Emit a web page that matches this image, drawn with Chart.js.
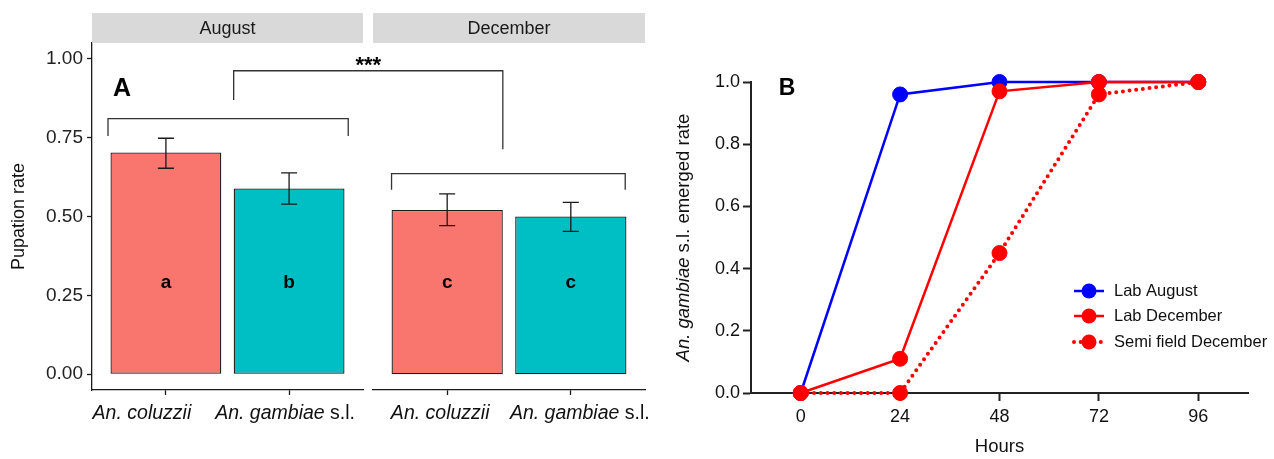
<!DOCTYPE html>
<html lang="en">
<head>
<meta charset="UTF-8">
<title>Pupation and emergence</title>
<script src="https://cdn.jsdelivr.net/npm/chart.js"></script>
<style>
    body { margin: 0; background: #fff; }
    #wrap { position: relative; width: 1274px; height: 459px; }
    canvas { position: absolute; top: 0; }
    #augChart, #decChart { left: 0; }
    #emergeChart { left: 660px; }
</style>
</head>
<body>
<div id="wrap">
    <canvas id="augChart" width="660" height="459"></canvas>
    <canvas id="decChart" width="660" height="459"></canvas>
    <canvas id="emergeChart" width="614" height="459"></canvas>
</div>
<script>
// --- panel A: pupation rate ---
const species = ['An. coluzzii', 'An. gambiae s.l.'];
const months = ['August', 'December'];
const augustRate = [0.703, 0.589];
const augustLow = [0.653, 0.539];
const augustHigh = [0.748, 0.638];
const decemberRate = [0.521, 0.500];
const decemberLow = [0.471, 0.453];
const decemberHigh = [0.572, 0.545];
const augustLetters = ['a', 'b'];
const decemberLetters = ['c', 'c'];
const pupationTicks = [0, 0.25, 0.5, 0.75, 1];

// --- panel B: emergence ---
const hours = [0, 24, 48, 72, 96];
const labAugust = [0, 0.96, 1.0, 1.0, 1.0];
const labDecember = [0, 0.11, 0.97, 1.0, 1.0];
const semiFieldDecember = [0, 0, 0.45, 0.96, 1.0];
const emergeTicks = [0, 0.2, 0.4, 0.6, 0.8, 1.0];

const FONT = '"Liberation Sans", Arial, sans-serif';
const INK = '#1a1a1a';
const BAR_COLORS = ['#F8766D', '#00BFC4'];

// italic genus name, upright "s.l."
function labelParts(txt) {
    if (txt.endsWith(' s.l.')) return [[txt.slice(0, -5), true], [' s.l.', false]];
    return [[txt, true]];
}

function drawMixed(ctx, parts, cx, y, size) {
    let total = 0;
    parts.forEach(p => {
        ctx.font = (p[1] ? 'italic ' : '') + size + 'px ' + FONT;
        total += ctx.measureText(p[0]).width;
    });
    let x = cx - total / 2;
    ctx.textAlign = 'left';
    parts.forEach(p => {
        ctx.font = (p[1] ? 'italic ' : '') + size + 'px ' + FONT;
        ctx.fillText(p[0], x, y);
        x += ctx.measureText(p[0]).width;
    });
}

function bracket(ctx, x1, x2, yTop, yLeft, yRight) {
    ctx.beginPath();
    ctx.moveTo(x1, yLeft);
    ctx.lineTo(x1, yTop);
    ctx.lineTo(x2, yTop);
    ctx.lineTo(x2, yRight);
    ctx.stroke();
}

// strips, error bars, letters, labels, brackets for one facet
const facetPlugin = {
    id: 'facet',
    afterDatasetsDraw(chart) {
        const f = chart.options.plugins.facet;
        const ctx = chart.ctx, xs = chart.scales.x, ys = chart.scales.y;
        ctx.save();
        ctx.strokeStyle = INK;
        ctx.lineWidth = 1.3;
        f.low.forEach((lo, i) => {
            const x = xs.getPixelForValue(i + 1);
            const w = xs.getPixelForValue(i + 1.065) - x;
            const yl = ys.getPixelForValue(lo), yh = ys.getPixelForValue(f.high[i]);
            ctx.beginPath();
            ctx.moveTo(x, yl); ctx.lineTo(x, yh);
            ctx.moveTo(x - w, yl); ctx.lineTo(x + w, yl);
            ctx.moveTo(x - w, yh); ctx.lineTo(x + w, yh);
            ctx.stroke();
        });
        ctx.fillStyle = '#000';
        ctx.font = 'bold 19px ' + FONT;
        ctx.textAlign = 'center';
        ctx.textBaseline = 'middle';
        f.letters.forEach((l, i) => {
            ctx.fillText(l, xs.getPixelForValue(i + 1), ys.getPixelForValue(0.29));
        });
        ctx.restore();
    },
    afterDraw(chart) {
        const f = chart.options.plugins.facet;
        const ctx = chart.ctx, area = chart.chartArea, xs = chart.scales.x, ys = chart.scales.y;
        ctx.save();
        // strip
        ctx.fillStyle = '#d9d9d9';
        ctx.fillRect(area.left, 13, area.right - area.left, 30);
        ctx.fillStyle = INK;
        ctx.font = '18px ' + FONT;
        ctx.textAlign = 'center';
        ctx.textBaseline = 'middle';
        ctx.fillText(f.month, (area.left + area.right) / 2, 29);
        // x labels
        ctx.fillStyle = '#111';
        ctx.textBaseline = 'alphabetic';
        species.forEach((s, i) => {
            drawMixed(ctx, labelParts(s), xs.getPixelForValue(i + 1) + f.nudge[i], 419, 19.5);
        });
        // within-month bracket
        ctx.strokeStyle = '#333';
        ctx.lineWidth = 1.3;
        const b = f.bracket;
        bracket(ctx, xs.getPixelForValue(b[0]), xs.getPixelForValue(b[1]),
            ys.getPixelForValue(b[2]), ys.getPixelForValue(b[3]), ys.getPixelForValue(b[3]));
        if (f.panelLetter) {
            ctx.fillStyle = '#000';
            ctx.font = 'bold 25px ' + FONT;
            ctx.textAlign = 'center';
            ctx.textBaseline = 'middle';
            ctx.fillText(f.panelLetter, 122, 89);
        }
        if (f.across) {
            // August vs December
            const axs = f.across.chart.scales.x;
            const x1 = axs.getPixelForValue(1.55), x2 = xs.getPixelForValue(1.45);
            const yTop = ys.getPixelForValue(0.962);
            bracket(ctx, x1, x2, yTop, ys.getPixelForValue(0.869), ys.getPixelForValue(0.713));
            ctx.fillStyle = '#000';
            ctx.font = 'bold 22px ' + FONT;
            ctx.textAlign = 'center';
            ctx.textBaseline = 'alphabetic';
            ctx.fillText('***', (x1 + x2) / 2, yTop + 1);
        }
        ctx.restore();
    }
};

function makeFacet(id, month, rates, lows, highs, letters, opts) {
    return new Chart(document.getElementById(id), {
        type: 'bar',
        data: {
            datasets: [{
                data: rates.map((r, i) => ({ x: i + 1, y: r })),
                backgroundColor: BAR_COLORS,
                borderColor: INK,
                borderWidth: 1.3,
                borderSkipped: false,
                barPercentage: 0.9,
                categoryPercentage: 1
            }]
        },
        options: {
            responsive: false,
            animation: false,
            layout: { padding: opts.padding },
            plugins: {
                legend: { display: false },
                tooltip: { enabled: false },
                facet: {
                    month: month, low: lows, high: highs, letters: letters,
                    nudge: opts.nudge, bracket: opts.bracket,
                    panelLetter: opts.panelLetter, across: opts.across
                }
            },
            scales: {
                x: {
                    type: 'linear', min: 0.4, max: 2.6, offset: false,
                    afterBuildTicks: s => { s.ticks = [1, 2].map(v => ({ value: v })); },
                    afterFit: s => { s.height = 40; },
                    ticks: { display: false },
                    grid: { drawOnChartArea: false, offset: false, tickLength: 5, color: INK, tickWidth: 1.3 },
                    border: { color: INK, width: 1.3 }
                },
                y: {
                    display: opts.showY,
                    min: -0.05, max: 1.05,
                    afterBuildTicks: s => { s.ticks = pupationTicks.map(v => ({ value: v })); },
                    afterFit: s => { s.width = opts.showY ? 92 : 0; },
                    ticks: { callback: v => v.toFixed(2), color: '#222', font: { family: FONT, size: 19 }, padding: 4 },
                    grid: { drawOnChartArea: false, tickLength: 5, color: INK, tickWidth: 1.3 },
                    border: { color: INK, width: 1.3 },
                    title: { display: true, text: 'Pupation rate', color: '#111', font: { family: FONT, size: 18 }, padding: { top: 8, bottom: 0 } }
                }
            }
        },
        plugins: [facetPlugin]
    });
}

const augChart = makeFacet('augChart', months[0], augustRate, augustLow, augustHigh, augustLetters, {
    showY: true,
    padding: { left: 0, top: 43, right: 297, bottom: 29 },
    nudge: [-24, -4],
    bracket: [0.53, 2.48, 0.81, 0.755],
    panelLetter: 'A'
});
const decChart = makeFacet('decChart', months[1], decemberRate, decemberLow, decemberHigh, decemberLetters, {
    showY: false,
    padding: { left: 373, top: 43, right: 15, bottom: 29 },
    nudge: [-7, 9],
    bracket: [0.55, 2.44, 0.636, 0.585],
    across: { chart: augChart }
});

// --- panel B ---
const emergePlugin = {
    id: 'emergeExtras',
    afterDraw(chart) {
        const ctx = chart.ctx, area = chart.chartArea;
        ctx.save();
        ctx.fillStyle = '#000';
        ctx.font = 'bold 23px ' + FONT;
        ctx.textAlign = 'center';
        ctx.textBaseline = 'middle';
        ctx.fillText('B', 127, 89);
        // y title with italic species name
        ctx.fillStyle = '#111';
        ctx.translate(24, (area.top + area.bottom) / 2);
        ctx.rotate(-Math.PI / 2);
        ctx.textBaseline = 'middle';
        drawMixed(ctx, [['An. gambiae', true], [' s.l. emerged rate', false]], 0, 0, 18.5);
        ctx.restore();
        // legend
        const rows = [291, 316, 342];
        chart.data.datasets.forEach((ds, i) => {
            const y = rows[i];
            ctx.save();
            ctx.strokeStyle = ds.borderColor;
            ctx.lineWidth = ds.borderWidth;
            ctx.lineCap = ds.borderCapStyle || 'butt';
            ctx.setLineDash(ds.borderDash || []);
            ctx.beginPath();
            ctx.moveTo(414, y); ctx.lineTo(444, y);
            ctx.stroke();
            ctx.setLineDash([]);
            ctx.fillStyle = ds.pointBackgroundColor;
            ctx.beginPath();
            ctx.arc(429, y, ds.pointRadius, 0, Math.PI * 2);
            ctx.fill();
            ctx.fillStyle = '#111';
            ctx.font = '16.5px ' + FONT;
            ctx.textAlign = 'left';
            ctx.textBaseline = 'middle';
            ctx.fillText(ds.label, 454, y);
            ctx.restore();
        });
    }
};

function series(label, values, color, extra) {
    return Object.assign({
        label: label,
        data: hours.map((h, i) => ({ x: h, y: values[i] })),
        borderColor: color,
        backgroundColor: color,
        pointBackgroundColor: color,
        pointBorderColor: color,
        pointBorderWidth: 1,
        pointRadius: 7.5,
        borderWidth: 2.5,
        tension: 0,
        clip: false
    }, extra);
}

new Chart(document.getElementById('emergeChart'), {
    type: 'line',
    data: {
        datasets: [
            series('Lab August', labAugust, '#0000FF', { order: 3 }),
            series('Lab December', labDecember, '#FF0000', { order: 2 }),
            series('Semi field December', semiFieldDecember, '#FF0000',
                { order: 1, borderWidth: 4, borderDash: [0, 6.7], borderCapStyle: 'round' })
        ]
    },
    options: {
        responsive: false,
        animation: false,
        layout: { padding: { left: 0, top: 82, right: 26, bottom: 0 } },
        plugins: { legend: { display: false }, tooltip: { enabled: false } },
        scales: {
            x: {
                type: 'linear', min: -12, max: 108,
                afterBuildTicks: s => { s.ticks = hours.map(v => ({ value: v })); },
                afterFit: s => { s.height = 66; },
                ticks: { color: '#111', font: { family: FONT, size: 18 }, padding: 5 },
                grid: { drawOnChartArea: false, tickLength: 8, color: '#222', tickWidth: 2 },
                border: { color: '#222', width: 2 },
                title: { display: true, text: 'Hours', color: '#111', font: { family: FONT, size: 18.5 }, padding: { top: 0, bottom: 1 } }
            },
            y: {
                min: 0, max: 1,
                afterBuildTicks: s => { s.ticks = emergeTicks.map(v => ({ value: v })); },
                afterFit: s => { s.width = 91; },
                ticks: { callback: v => v.toFixed(1), color: '#111', font: { family: FONT, size: 18 }, padding: 3 },
                grid: { drawOnChartArea: false, tickLength: 8, color: '#222', tickWidth: 2 },
                border: { color: '#222', width: 2 }
            }
        }
    },
    plugins: [emergePlugin]
});
</script>
</body>
</html>
